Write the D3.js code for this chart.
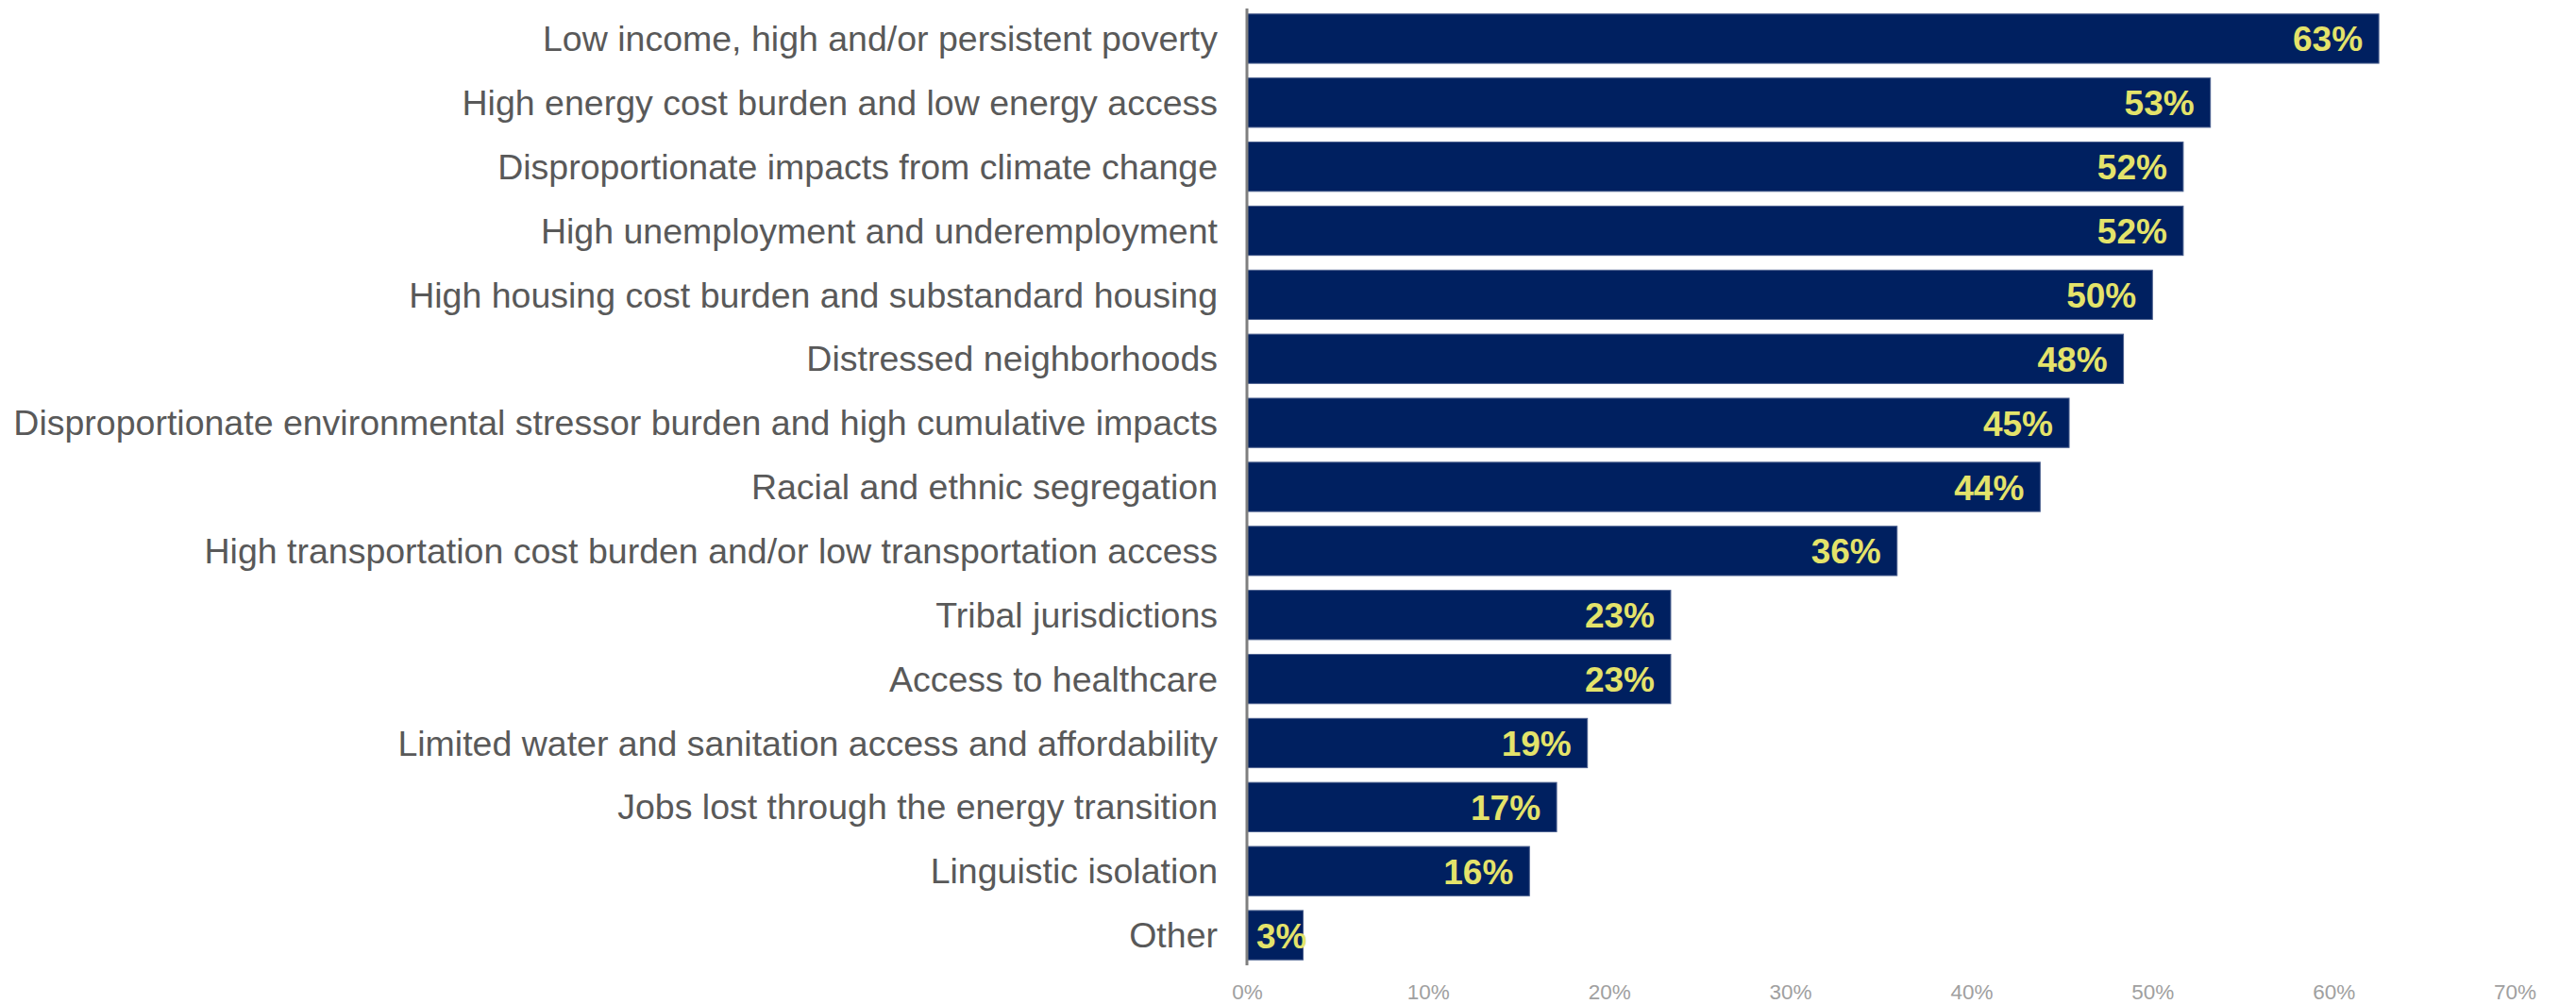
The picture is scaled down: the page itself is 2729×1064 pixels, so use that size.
<!DOCTYPE html>
<html>
<head>
    <meta charset="UTF-8">
    <title>Community characteristics</title>
    <script src="https://d3js.org/d3.v7.min.js"></script>
    <style>
        body { margin: 0; background: #fff; font-family: "Liberation Sans", Arial, sans-serif; }
        .cat text { font-size: 37.5px; fill: #595959; }
        .tick-x text { font-size: 22.5px; fill: #a0a0a0; }
        .value { font-size: 37px; font-weight: bold; fill: #e4e36a; }
    </style>
</head>
<body>
    <div id="chart"></div>
    <script>
        // categories, top to bottom
        const categories = [
            "Low income, high and/or persistent poverty",
            "High energy cost burden and low energy access",
            "Disproportionate impacts from climate change",
            "High unemployment and underemployment",
            "High housing cost burden and substandard housing",
            "Distressed neighborhoods",
            "Disproportionate environmental stressor burden and high cumulative impacts",
            "Racial and ethnic segregation",
            "High transportation cost burden and/or low transportation access",
            "Tribal jurisdictions",
            "Access to healthcare",
            "Limited water and sanitation access and affordability",
            "Jobs lost through the energy transition",
            "Linguistic isolation",
            "Other"
        ];
        // share of respondents (%)
        const shares = [62.5, 53.2, 51.7, 51.7, 50.0, 48.4, 45.4, 43.8, 35.9, 23.4, 23.4, 18.8, 17.1, 15.6, 3.1];
        const xTicks = [0, 10, 20, 30, 40, 50, 60, 70];

        const width = 2729, height = 1064;
        const x0 = 1321, x1 = 2664;

        const data = categories.map((c, i) => ({ name: c, value: shares[i] }));

        const svg = d3.select("#chart").append("svg")
            .attr("width", width)
            .attr("height", height);

        const x = d3.scaleLinear().domain([0, 70]).range([x0, x1]);
        const y = d3.scaleBand().domain(categories).range([7, 1025]).paddingInner(0.23).paddingOuter(0.115);

        // bars
        svg.selectAll(".bar")
            .data(data)
            .enter()
            .append("rect")
            .attr("class", "bar")
            .attr("x", x(0))
            .attr("y", d => y(d.name))
            .attr("width", d => x(d.value) - x(0))
            .attr("height", y.bandwidth())
            .attr("fill", "#002060")
            .attr("stroke", "#4a5f8e")
            .attr("stroke-width", 1);

        // value labels inside end
        svg.selectAll(".value")
            .data(data)
            .enter()
            .append("text")
            .attr("class", "value")
            .attr("dominant-baseline", "central")
            .attr("y", d => y(d.name) + y.bandwidth() / 2 + 1)
            .text(d => Math.round(d.value) + "%")
            .each(function (d) {
                const t = d3.select(this);
                const w = this.getComputedTextLength();
                const end = x(d.value) - 17;
                if (end - w < x(0) + 8) {
                    t.attr("x", x(0) + 10).attr("text-anchor", "start");
                } else {
                    t.attr("x", end).attr("text-anchor", "end");
                }
            });

        // y axis (categories)
        const yAxis = svg.append("g")
            .attr("class", "cat")
            .attr("transform", `translate(${x0},0)`)
            .call(d3.axisLeft(y).tickSize(0).tickPadding(31));
        yAxis.select(".domain")
            .attr("d", "M0,9V1023")
            .attr("stroke", "#7f7f7f")
            .attr("stroke-width", 3);
        yAxis.selectAll("text").attr("dy", "0.35em");

        // x axis ticks (labels only)
        const xAxis = svg.append("g")
            .attr("class", "tick-x")
            .attr("transform", "translate(0,1043)")
            .call(d3.axisBottom(x).tickValues(xTicks).tickSize(0).tickPadding(0).tickFormat(d => d + "%"));
        xAxis.select(".domain").remove();
        xAxis.selectAll("text").attr("dy", "0.71em");
    </script>
</body>
</html>
